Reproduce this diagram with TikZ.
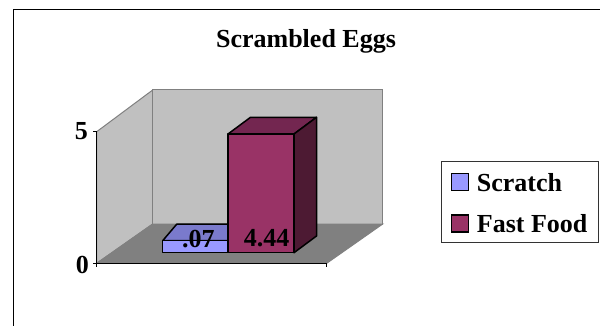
\documentclass[tikz,border=0pt]{standalone}
\usepackage{fontspec}
\setmainfont{Liberation Serif}

\definecolor{wallgray}{HTML}{C0C0C0}
\definecolor{floorgray}{HTML}{808080}
\definecolor{scratchfront}{HTML}{9999FF}
\definecolor{scratchtop}{HTML}{7A7ACC}
\definecolor{fastfront}{HTML}{993366}
\definecolor{fasttop}{HTML}{732650}
\definecolor{fastside}{HTML}{4D1A33}

\tikzset{
  lbl/.style = {inner sep=0pt, font=\fontsize{26}{30}\selectfont\bfseries},
  barface/.style = {draw=black, line width=1.5pt, line join=round},
  swatch/.style = {draw=black, line width=1.5pt, minimum size=17pt, inner sep=0pt}
}

\begin{document}
\begin{tikzpicture}[x=1pt, y=-1pt]
  \useasboundingbox[fill=white] (0,0) rectangle (600,326);
  % frame
  \coordinate (f0) at (13,326);
  \coordinate (f1) at (13,10);
  \coordinate (f2) at (600,10);
  \draw[line width=1pt] (f0) -- (f1) -- (f2);
  % walls and floor
  \coordinate (a) at (96.7,263.3);
  \coordinate (b) at (96.7,131.7);
  \coordinate (c) at (152.7,90);
  \coordinate (d) at (152.7,224);
  \coordinate (e) at (382.7,90);
  \coordinate (g) at (382.7,224);
  \coordinate (h) at (326.7,263.3);
  \filldraw[fill=wallgray, draw=gray, line width=1pt] (a) -- (b) -- (c) -- (d) -- cycle;
  \filldraw[fill=wallgray, draw=gray, line width=1pt] (d) -- (c) -- (e) -- (g) -- cycle;
  \filldraw[fill=floorgray, draw=gray, line width=1pt] (a) -- (d) -- (g) -- (h) -- cycle;
  \draw[line width=0.8pt] (b) -- (a) -- (h);
  \draw[line width=0.8pt] (b) -- +(-4,0);
  \draw[line width=0.8pt] (a) -- +(-4,0);
  \draw[line width=0.8pt] (a) -- +(0,4);
  \draw[line width=0.8pt] (h) -- +(0,4);
  % Scratch bar
  \filldraw[barface, fill=scratchtop] (162.7,240.7) -- (228.3,240.7) -- (242.3,224.2) -- (176.7,224.2) -- cycle;
  \filldraw[barface, fill=scratchfront] (162.7,240.7) rectangle (228.3,252.3);
  % Fast Food bar
  \filldraw[barface, fill=fasttop] (228,134) -- (294,134) -- (316.5,117.3) -- (250.5,117.3) -- cycle;
  \filldraw[barface, fill=fastside] (294,134) -- (316.5,117.3) -- (316.5,236) -- (294,252.7) -- cycle;
  \filldraw[barface, fill=fastfront] (228,134) rectangle (294,252.7);
  % texts
  \node[lbl, anchor=base] (title) at (306,48) {Scrambled Eggs};
  \node[lbl, anchor=base east] (five) at (88,140) {5};
  \node[lbl, anchor=base east] (zero) at (89,273) {0};
  \node[lbl, anchor=base] (v1) at (198.3,247.3) {.07};
  \node[lbl, anchor=base] (v2) at (266.7,246.7) {4.44};
  % legend
  \node[draw=black!80, line width=1pt, minimum width=157pt, minimum height=81.7pt, inner sep=0pt] (legend) at (520.1,201.9) {};
  \node[swatch, fill=scratchfront] (k1) at (460,182.2) {};
  \node[swatch, fill=fastfront] (k2) at (460,223.5) {};
  \node[lbl, anchor=base west] (t1) at (476.7,191.5) {Scratch};
  \node[lbl, anchor=base west] (t2) at (476.7,232) {Fast Food};
\end{tikzpicture}
\end{document}
